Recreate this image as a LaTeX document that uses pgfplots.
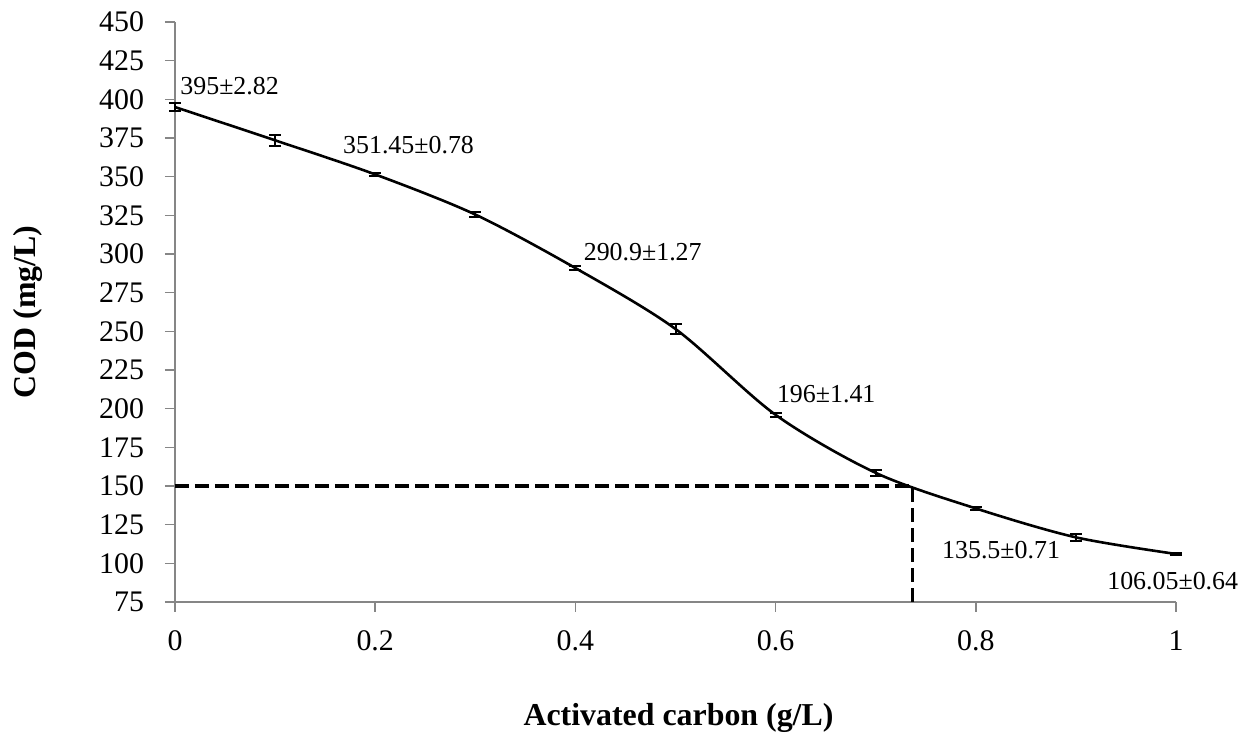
\documentclass[border=0pt]{standalone}
\usepackage{fontspec}
\setmainfont{Liberation Serif}
\usepackage{pgfplots}
\pgfplotsset{compat=1.18}
\definecolor{axgray}{RGB}{134,134,134}

\begin{document}
\begin{tikzpicture}
\begin{axis}[
  scale only axis,
  width=500.5bp, height=290bp,
  xmin=0, xmax=1, ymin=75, ymax=450,
  axis x line*=bottom, axis y line*=left,
  axis line style={draw=axgray, line width=0.8bp},
  tick align=outside,
  major tick length=5bp,
  tick style={draw=axgray, line width=0.8bp},
  xtick={0,0.2,0.4,0.6,0.8,1},
  ytick={75,100,...,450},
  /pgf/number format/assume math mode=true,
  tick label style={font=\fontsize{15}{15}\selectfont},
  yticklabel style={xshift=-7bp},
  xticklabel style={yshift=-6bp},
  xlabel={\textbf{Activated carbon (g/L)}},
  ylabel={\textbf{COD (mg/L)}},
  label style={font=\fontsize{16}{16}\selectfont},
  xlabel style={at={(axis description cs:0.503,-0.213)}, anchor=base},
  ylabel style={at={(axis description cs:-0.147,0.5)}, anchor=center},
  clip=false,
]
% reading line at COD = 150 mg/L
\addplot[black, line width=1.7bp, dash pattern=on 7bp off 3bp]
  coordinates {(0,150) (0.737,150) (0.737,75)};

\addplot[black, line width=1.3bp, smooth, mark=none,
  error bars/.cd, y dir=both, y explicit,
  error bar style={line width=1bp},
  error mark options={rotate=90, mark size=3bp, line width=1bp}]
  coordinates {
    (0,395) +- (0,2.82)
    (0.1,373.5) +- (0,3.5)
    (0.2,351.45) +- (0,0.78)
    (0.3,325.5) +- (0,1.5)
    (0.4,290.9) +- (0,1.27)
    (0.5,251.5) +- (0,3.0)
    (0.6,196) +- (0,1.41)
    (0.7,158.5) +- (0,2.0)
    (0.8,135.5) +- (0,0.71)
    (0.9,116.8) +- (0,2.2)
    (1.0,106.05) +- (0,0.64)
  };

\begin{scope}[every node/.style={font=\fontsize{13}{13}\selectfont, anchor=west, inner sep=0pt}]
\node at (axis cs:0.005,408.6) {395±2.82};
\node at (axis cs:0.1676,370.5) {351.45±0.78};
\node at (axis cs:0.408,301.3) {290.9±1.27};
\node at (axis cs:0.601,209.5) {196±1.41};
\node at (axis cs:0.766,108.6) {135.5±0.71};
\node at (axis cs:0.931,88.6) {106.05±0.64};
\end{scope}
\end{axis}
\pgfresetboundingbox
\path ([shift={(-87.5bp,-68bp)}]current axis.south west) rectangle ([shift={(39.5bp,11bp)}]current axis.north east);
\end{tikzpicture}
\end{document}
